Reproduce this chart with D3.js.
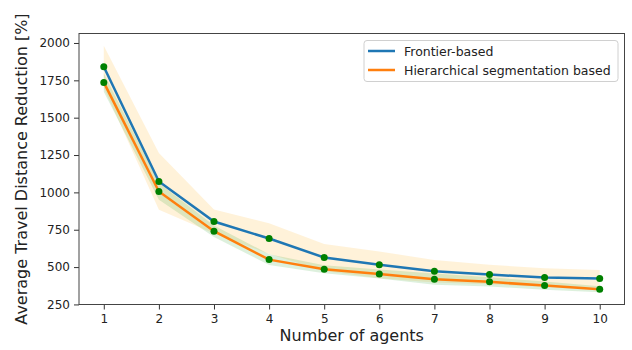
<!DOCTYPE html>
<html>
<head>
<meta charset="utf-8">
<script src="https://cdn.jsdelivr.net/npm/d3@7"></script>
<style>
  html, body { margin: 0; padding: 0; background: #fff; }
  svg text { font-family: "DejaVu Sans", sans-serif; fill: #222; }
</style>
</head>
<body>
<svg id="chart" width="632" height="350"></svg>
<script>
// Number of agents on the x axis
const agents = [1, 2, 3, 4, 5, 6, 7, 8, 9, 10];

// Mean travel distance reduction [%] per method
const frontierMean = [1841, 1073, 805, 691, 564, 515, 472, 450, 430, 423];
const hierMean     = [1736, 1006, 740, 550, 486, 454, 419, 401, 376, 352];

// Spread (± standard deviation) around each mean
const frontierStd = [140, 190, 80, 103, 90, 89, 76, 65, 63, 58];
const hierStd     = [62, 56, 38, 36, 27, 30, 38, 31, 27, 20];

const yTicks = [250, 500, 750, 1000, 1250, 1500, 1750, 2000];
const seriesNames = ["Frontier-based", "Hierarchical segmentation based"];

const svg = d3.select("#chart");
const margin = { left: 79, right: 7.5, top: 33.5, bottom: 45.5 };
const W = 632, H = 350;

// y domain: band extents with 5% padding on each side
const lows = agents.map((_, i) => Math.min(frontierMean[i] - frontierStd[i], hierMean[i] - hierStd[i]));
const highs = agents.map((_, i) => Math.max(frontierMean[i] + frontierStd[i], hierMean[i] + hierStd[i]));
const yMin = d3.min(lows), yMax = d3.max(highs);
const yPad = (yMax - yMin) * 0.05;

const x = d3.scaleLinear()
  .domain([1 - 0.45, 10 + 0.45])
  .range([margin.left, W - margin.right]);
const y = d3.scaleLinear()
  .domain([yMin - yPad, yMax + yPad])
  .range([H - margin.bottom, margin.top]);

const plot = svg.append("g");

// shaded spread bands
const band = (mean, std) => d3.area()
  .x((d, i) => x(agents[i]))
  .y0((d, i) => y(mean[i] - std[i]))
  .y1((d, i) => y(mean[i] + std[i]))(mean);

plot.append("path").attr("d", band(frontierMean, frontierStd))
  .attr("fill", "#ffa500").attr("fill-opacity", 0.15);
plot.append("path").attr("d", band(hierMean, hierStd))
  .attr("fill", "#2ca02c").attr("fill-opacity", 0.16);

// mean lines
const line = d3.line().x((d, i) => x(agents[i])).y(d => y(d));
plot.append("path").attr("d", line(frontierMean))
  .attr("fill", "none").attr("stroke", "#1f77b4").attr("stroke-width", 2.5);
plot.append("path").attr("d", line(hierMean))
  .attr("fill", "none").attr("stroke", "#ff7f0e").attr("stroke-width", 2.5);

// data point markers
[frontierMean, hierMean].forEach(series => {
  plot.selectAll(null).data(series).enter().append("circle")
    .attr("cx", (d, i) => x(agents[i]))
    .attr("cy", d => y(d))
    .attr("r", 3.5)
    .attr("fill", "#008000");
});

// axes
const xAxis = d3.axisBottom(x).tickValues(agents).tickFormat(d3.format("d")).tickSize(5).tickPadding(5);
const yAxis = d3.axisLeft(y).tickValues(yTicks).tickFormat(d3.format("d")).tickSize(5).tickPadding(4);

const gx = svg.append("g").attr("transform", `translate(0,${H - margin.bottom})`).call(xAxis);
const gy = svg.append("g").attr("transform", `translate(${margin.left},0)`).call(yAxis);
[gx, gy].forEach(g => {
  g.select(".domain").remove();
  g.selectAll(".tick line").attr("stroke", "#333");
  g.selectAll(".tick text").attr("font-size", 12).attr("fill", "#222")
    .attr("font-family", "DejaVu Sans, sans-serif");
});

// frame
svg.append("rect")
  .attr("x", margin.left).attr("y", margin.top)
  .attr("width", W - margin.left - margin.right)
  .attr("height", H - margin.top - margin.bottom)
  .attr("fill", "none").attr("stroke", "#444").attr("stroke-width", 1);

// axis titles
svg.append("text")
  .attr("x", (margin.left + W - margin.right) / 2).attr("y", 341)
  .attr("text-anchor", "middle").attr("font-size", 16)
  .text("Number of agents");
svg.append("text")
  .attr("transform", `translate(27,${(margin.top + H - margin.bottom) / 2}) rotate(-90)`)
  .attr("text-anchor", "middle").attr("font-size", 16)
  .text("Average Travel Distance Reduction [%]");

// legend
const legend = svg.append("g").attr("transform", "translate(364,40.5)");
legend.append("rect").attr("width", 254).attr("height", 41).attr("rx", 3)
  .attr("fill", "#fff").attr("fill-opacity", 0.8).attr("stroke", "#d0d0d0");
const legendColors = ["#1f77b4", "#ff7f0e"];
seriesNames.forEach((name, i) => {
  const ly = 10.5 + i * 19;
  legend.append("line").attr("x1", 4).attr("x2", 31).attr("y1", ly).attr("y2", ly)
    .attr("stroke", legendColors[i]).attr("stroke-width", 2.5);
  legend.append("text").attr("x", 40).attr("y", ly + 4.5).attr("font-size", 12.5).text(name);
});
</script>
</body>
</html>
